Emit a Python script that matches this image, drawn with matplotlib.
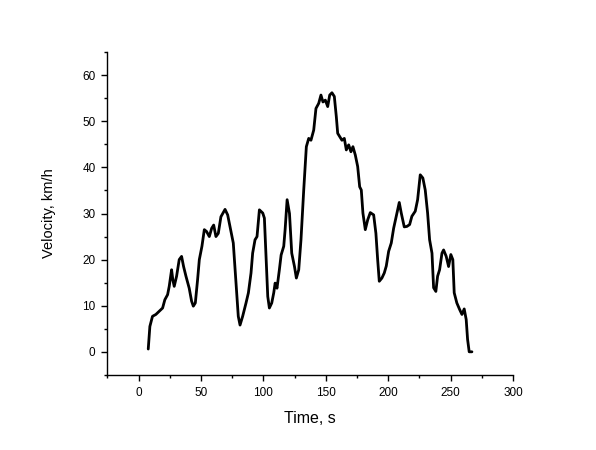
import matplotlib
matplotlib.use("Agg")
import matplotlib.pyplot as plt
from matplotlib.ticker import MultipleLocator

# velocity trace
time_s = [7.8, 9.1, 11.2, 13.9, 16.6, 19.3, 21.1, 23.3, 24.6, 26.5, 27.5, 28.6,
          30.5, 32.6, 34.5, 36.1, 38.0, 40.6, 42.5, 43.9, 45.5, 47.3, 48.7, 50.8,
          52.7, 54.5, 56.7, 58.6, 60.2, 62.0, 63.9, 66.0, 69.3, 71.4, 73.5, 75.9,
          78.1, 79.9, 81.3, 83.4, 86.1, 88.0, 90.1, 91.4, 93.3, 94.9, 96.8, 99.5,
          100.8, 102.1, 103.5, 104.8, 106.7, 108.3, 109.4, 110.9, 112.8, 114.2,
          116.3, 117.4, 119.0, 120.9, 122.7, 124.9, 126.4, 128.3, 130.1, 132.3,
          134.4, 136.3, 138.1, 140.3, 142.1, 144.3, 146.1, 147.7, 149.6, 151.5,
          153.1, 154.9, 156.8, 158.4, 159.5, 161.1, 162.9, 164.8, 166.4, 168.3,
          170.1, 171.7, 173.6, 175.5, 177.1, 178.4, 179.7, 181.6, 183.5, 185.6,
          188.3, 190.1, 191.5, 192.8, 194.9, 196.8, 198.4, 200.3, 202.4, 204.3,
          206.9, 208.8, 210.4, 212.8, 214.9, 217.1, 218.9, 221.6, 223.5, 225.6,
          227.7, 229.6, 231.5, 233.1, 235.0, 236.3, 238.1, 239.5, 241.1, 243.0,
          244.3, 246.4, 248.3, 250.1, 251.7, 252.8, 254.9, 257.1, 259.0, 260.8,
          262.4, 263.5, 264.8, 267.0]
velocity_kmh = [0.6, 5.5, 7.7, 8.1, 8.8, 9.5, 11.3, 12.4, 14.2, 17.8, 15.6, 14.2,
                16.4, 20.0, 20.7, 18.5, 16.4, 13.8, 11.0, 9.9, 10.6, 15.6, 20.0, 22.9,
                26.5, 26.1, 25.0, 26.8, 27.5, 25.0, 25.7, 29.3, 30.9, 29.7, 26.8, 23.6,
                14.9, 7.7, 5.8, 7.7, 10.6, 12.8, 17.1, 21.4, 24.3, 25.0, 30.8, 30.1,
                29.0, 20.7, 12.0, 9.5, 10.6, 12.8, 14.9, 13.8, 17.8, 21.0,
                22.9, 26.5, 33.0, 30.0, 21.4, 18.5, 16.0, 17.8, 24.3, 35.1,
                44.5, 46.3, 45.9, 48.1, 52.8, 53.9, 55.7, 54.2, 54.6, 53.2,
                55.7, 56.2, 55.4, 51.0, 47.4, 46.7, 45.9, 46.3, 43.8, 44.9,
                43.4, 44.5, 42.7, 40.2, 35.8, 35.1, 30.1, 26.5, 28.6, 30.2,
                29.7, 25.7, 20.0, 15.3, 16.0, 17.1, 18.6, 21.8, 23.6, 26.8,
                30.1, 32.4, 30.1, 27.1, 27.2, 27.6, 29.4, 30.5, 33.0, 38.4,
                37.7, 35.1, 30.1, 24.3, 21.4, 13.9, 13.1, 16.4, 17.8, 21.4,
                22.1, 20.7, 18.5, 21.1, 20.0, 12.8, 10.6, 9.2, 8.1, 9.3,
                7.0, 2.7, 0.0, 0.0]

plt.rcParams["font.family"] = ["Liberation Sans", "DejaVu Sans"]

fig = plt.figure(figsize=(5.96, 4.5), dpi=100)
ax = fig.add_axes([0.18, 0.167, 0.681, 0.717])

ax.plot(time_s, velocity_kmh, color="black", linewidth=2.0,
        solid_joinstyle="round", solid_capstyle="round")

ax.set_xlim(-25, 300)
ax.set_ylim(-5, 65)
ax.xaxis.set_major_locator(MultipleLocator(50))
ax.xaxis.set_minor_locator(MultipleLocator(25))
ax.yaxis.set_major_locator(MultipleLocator(10))
ax.yaxis.set_minor_locator(MultipleLocator(5))

for side in ("top", "right"):
    ax.spines[side].set_visible(False)
for side in ("left", "bottom"):
    ax.spines[side].set_linewidth(1.0)

ax.tick_params(which="major", direction="out", length=4.5, width=1.0,
               labelsize=8.5, pad=4)
ax.tick_params(which="minor", direction="out", length=2.5, width=1.0)

ax.set_xlabel("Time, s", fontsize=11.5, labelpad=9)
ax.set_ylabel("Velocity, km/h", fontsize=10.5, labelpad=19)

fig.savefig("out.png", dpi=100)
